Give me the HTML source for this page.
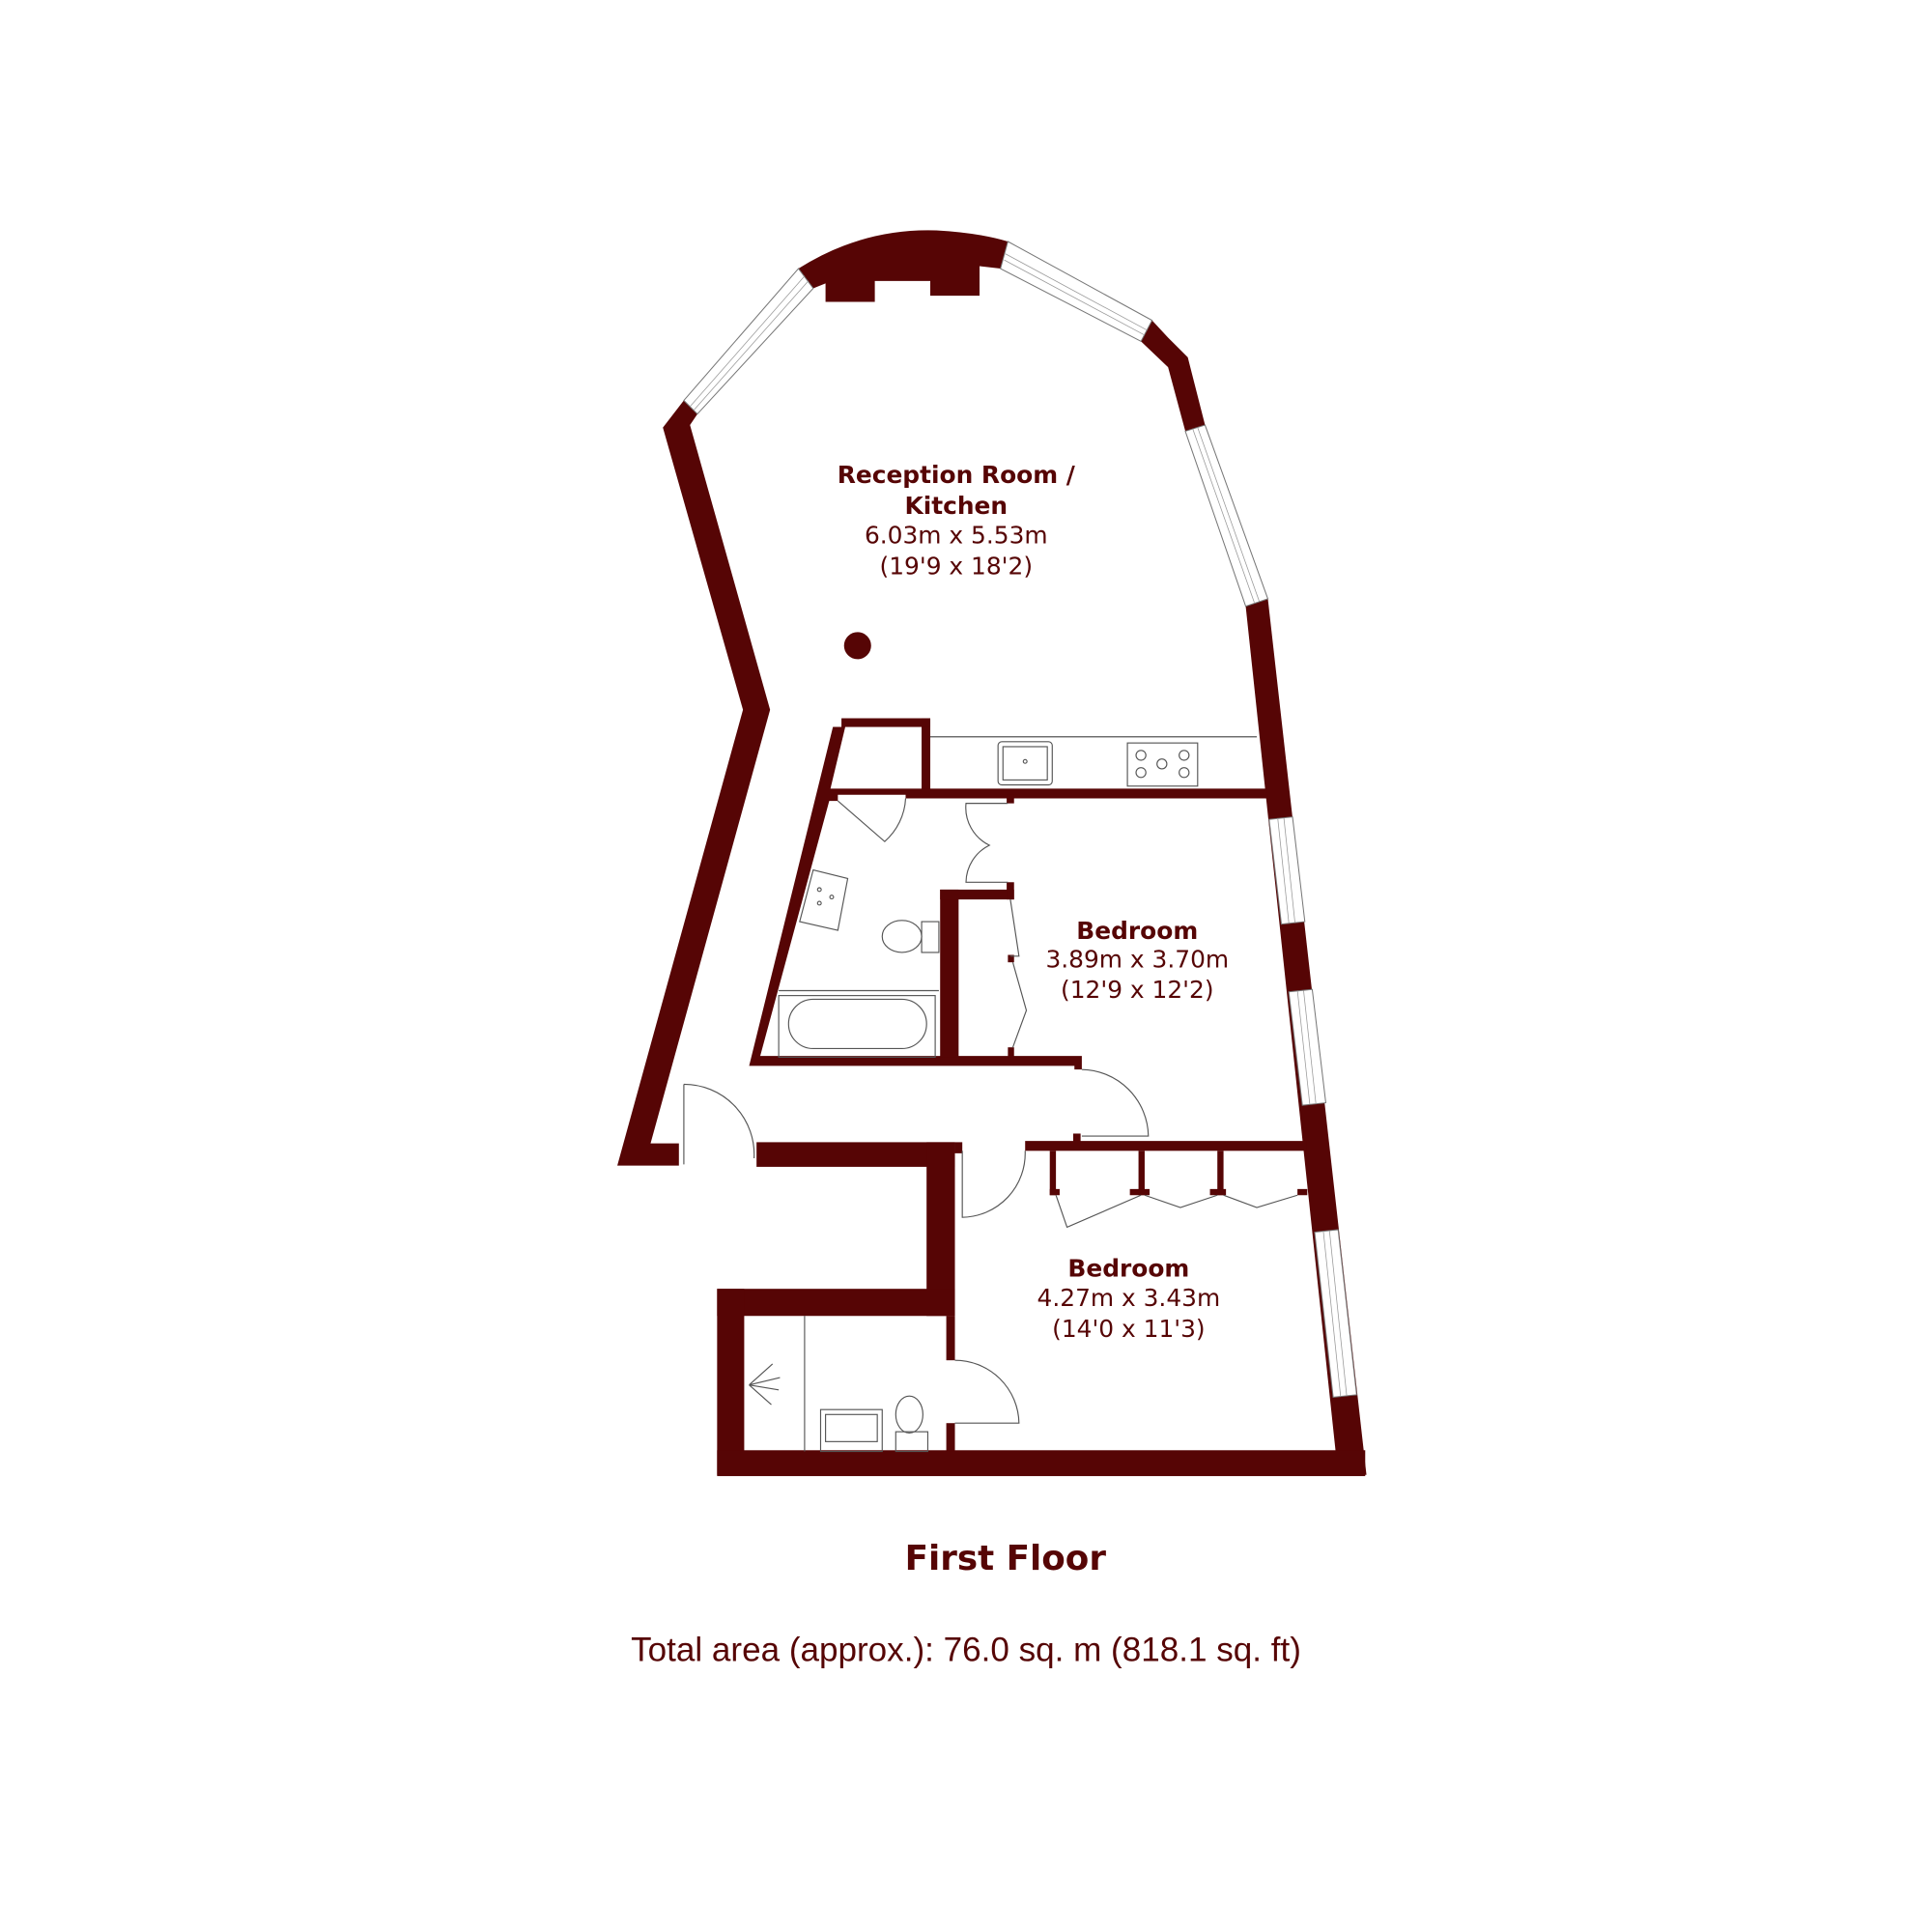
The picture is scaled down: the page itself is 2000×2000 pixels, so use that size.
<!DOCTYPE html>
<html><head><meta charset="utf-8"><style>html,body{margin:0;padding:0;background:#fff}svg{display:block}</style></head>
<body>
<svg width="2000" height="2000" viewBox="0 0 1568 1568" xmlns="http://www.w3.org/2000/svg">
<rect x="0" y="0" width="1568" height="1568" fill="#fff"/>
<g fill="#560505" stroke="none">
<polygon points="538,347 555,325 566,336 560,345 625,576 528,928 551,928 551,946 501,946 603,576"/>
<path d="M648,218 Q700,185 760,187 Q795,189 818,196 L812,218 L795,216 L795,240 L755,240 L755,228 L710,228 L710,245 L670,245 L670,230 L660,234 Z"/>
<polygon points="935,260 948,274 964,290 978,345 962,350 948,298 926,277"/>
<polygon points="1011,492 1029,486 1109,1197 1086,1197"/>
<polygon points="683,583 755,583 755,640 1028,640 1029,648 735,648 735,645 680,645 680,650 673,650 617,857 878,857 878,868 872,868 872,865 608,865 676,590 683,590"/>
<polygon points="686,590 748,590 748,640 674,640" fill="#fff"/>
<rect x="748" y="583" width="7" height="57"/>
<rect x="683" y="583" width="72" height="7"/>
<rect x="763" y="722" width="15" height="136"/>
<rect x="763" y="722" width="60" height="8"/>
<rect x="817" y="716" width="6" height="14"/>
<rect x="817" y="645" width="6" height="7"/>
<rect x="818" y="850" width="5" height="8"/>
<rect x="818" y="775" width="5" height="6"/>
<rect x="614" y="927" width="161" height="20"/>
<rect x="752" y="927" width="23" height="141"/>
<rect x="582" y="1046" width="193" height="22"/>
<rect x="582" y="1046" width="22" height="151"/>
<rect x="582" y="1177" width="526" height="21"/>
<rect x="768" y="1068" width="7" height="36"/>
<rect x="768" y="1155" width="7" height="23"/>
<rect x="775" y="927" width="6" height="9"/>
<rect x="832" y="926" width="228" height="8"/>
<rect x="871" y="920" width="6" height="7"/>
<rect x="852" y="934" width="5" height="36"/>
<rect x="852" y="965" width="8" height="5"/>
<rect x="924" y="934" width="5" height="36"/>
<rect x="917" y="965" width="16" height="5"/>
<rect x="988" y="934" width="5" height="36"/>
<rect x="982" y="965" width="13" height="5"/>
<rect x="1053" y="965" width="8" height="5"/>
<circle cx="696" cy="524" r="11"/>
</g>
<g fill="#fff" stroke="#777" stroke-width="0.8">
<polygon points="555,325 648,218 660,234 566,336"/>
<polygon points="818,196 935,260 926,277 812,218"/>
<polygon points="962,350 978,345 1029,486 1011,492"/>
<polygon points="1030,665 1049,663 1059,748 1040,750"/>
<polygon points="1046,805 1065,803 1076,895 1057,897"/>
<polygon points="1067,1000 1086,998 1101,1132 1082,1134"/>
</g>
<g fill="none" stroke="#999" stroke-width="0.6">
<path d="M560,330 L653,224 M563,333 L656,228"/>
<path d="M816,206 L931,268 M815,211 L929,272"/>
<path d="M968,348 L1018,489 M972,347 L1022,488"/>
<path d="M1037,664 L1046,749 M1042,664 L1051,749"/>
<path d="M1053,804 L1063,896 M1058,804 L1068,896"/>
<path d="M1074,999 L1088,1133 M1079,999 L1093,1133"/>
</g>
<g fill="none" stroke="#555" stroke-width="0.9">
<path d="M555,880 L555,945 M555,880 A57,57 0 0 1 612,940"/>
<path d="M878,868 A55,55 0 0 1 932,922 L878,922"/>
<path d="M781,934 L781,988 A52,52 0 0 0 832,934"/>
<path d="M775,1104 A52,52 0 0 1 827,1155 L775,1155"/>
<path d="M680,650 L718,683 A50,50 0 0 0 735,648"/>
<path d="M818,652 L784,652 A34,34 0 0 0 803,686 A34,34 0 0 0 784,716 L818,716"/>
<path d="M820,730 L827,776 L820,776 M822,781 L833,820 L822,850"/>
<path d="M857,970 L866,996 L926,970 M929,970 L958,980 L988,970 M993,970 L1020,980 L1053,970"/>
<path d="M755,598 L1020,598"/>
<rect x="810" y="602" width="44" height="35" rx="3"/><rect x="814" y="606" width="36" height="27"/>
<circle cx="832" cy="618" r="1.5"/>
<rect x="915" y="603" width="57" height="35"/>
<circle cx="926" cy="613" r="4"/><circle cx="926" cy="627" r="4"/><circle cx="961" cy="613" r="4"/><circle cx="961" cy="627" r="4"/><circle cx="943" cy="620" r="4"/>
<polygon points="660,706 688,713 680,755 649,748"/>
<circle cx="665" cy="722" r="1.5"/><circle cx="665" cy="733" r="1.5"/><circle cx="675" cy="728" r="1.5"/>
<ellipse cx="732" cy="760" rx="16" ry="13"/><rect x="748" y="748" width="14" height="25"/>
<rect x="632" y="808" width="127" height="50"/><rect x="640" y="811" width="112" height="40" rx="20"/>
<path d="M632,804 L762,804"/>
<path d="M653,1068 L653,1178"/>
<rect x="666" y="1144" width="50" height="34"/><rect x="670" y="1148" width="42" height="22"/>
<ellipse cx="738" cy="1148" rx="11" ry="15"/><rect x="727" y="1162" width="26" height="16"/>
<path d="M608,1124 L627,1107 M608,1124 L633,1118 M608,1124 L632,1128 M608,1124 L626,1140"/>
</g>
<g fill="#560505" font-family="'DejaVu Sans', Verdana, sans-serif" text-anchor="middle">
<text x="776" y="392" font-size="19.5" font-weight="bold">Reception Room /</text>
<text x="776" y="417" font-size="19.5" font-weight="bold">Kitchen</text>
<text x="776" y="441" font-size="19.5">6.03m x 5.53m</text>
<text x="776" y="466" font-size="19.5">(19'9 x 18'2)</text>
<text x="923" y="762" font-size="19.5" font-weight="bold">Bedroom</text>
<text x="923" y="785" font-size="19.5">3.89m x 3.70m</text>
<text x="923" y="810" font-size="19.5">(12'9 x 12'2)</text>
<text x="916" y="1036" font-size="19.5" font-weight="bold">Bedroom</text>
<text x="916" y="1060" font-size="19.5">4.27m x 3.43m</text>
<text x="916" y="1085" font-size="19.5">(14'0 x 11'3)</text>
<text x="816" y="1274" font-size="28" font-weight="bold">First Floor</text>
</g>
<text x="784" y="1348" fill="#560505" font-family="'Liberation Sans', Arial, sans-serif" font-size="27.5" text-anchor="middle">Total area (approx.): 76.0 sq. m (818.1 sq. ft)</text>
</svg>
</body></html>
